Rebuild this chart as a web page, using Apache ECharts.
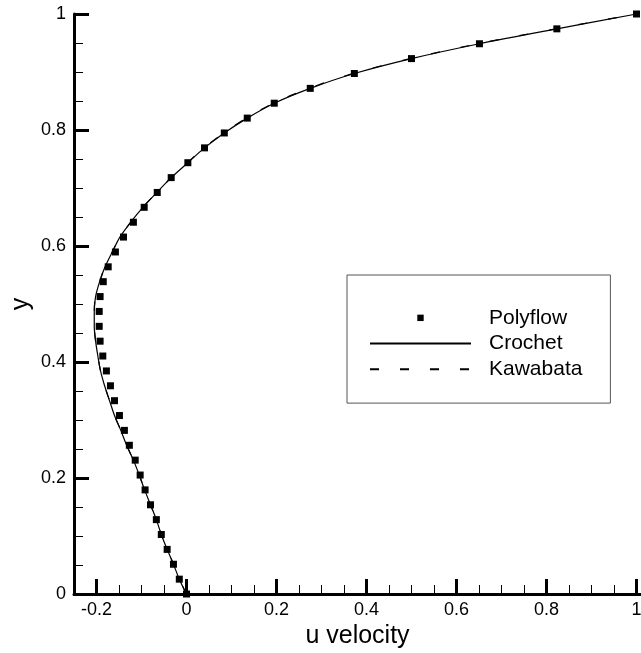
<!DOCTYPE html>
<html>
<head>
<meta charset="utf-8">
<script src="https://cdn.jsdelivr.net/npm/echarts@6/dist/echarts.min.js"></script>
<style>
  html, body { margin: 0; padding: 0; background: #fff; }
  #chart { width: 641px; height: 653px; }
</style>
</head>
<body>
<div id="chart"></div>
<script>
// Vertical centreline profile: y positions shared by all three profiles
const yLevels = [0, 0.0256, 0.0513, 0.0769, 0.1026, 0.1282, 0.1538, 0.1795, 0.2051, 0.2308,
  0.2564, 0.2821, 0.3077, 0.3333, 0.3590, 0.3846, 0.4103, 0.4359, 0.4615, 0.4872,
  0.5128, 0.5385, 0.5641, 0.5897, 0.6154, 0.6410, 0.6667, 0.6923, 0.7179, 0.7436,
  0.7692, 0.7949, 0.8205, 0.8462, 0.8718, 0.8974, 0.9231, 0.9487, 0.9744, 1];

// u velocity at each y level
const polyflowU = [0, -0.016, -0.029, -0.043, -0.056, -0.067, -0.080, -0.092, -0.103, -0.114,
  -0.127, -0.138, -0.149, -0.160, -0.169, -0.178, -0.186, -0.192, -0.194, -0.194,
  -0.192, -0.185, -0.174, -0.158, -0.140, -0.118, -0.094, -0.065, -0.034, 0.003,
  0.040, 0.084, 0.135, 0.195, 0.275, 0.373, 0.500, 0.651, 0.823, 1.0];

const crochetU = [0, -0.016, -0.029, -0.043, -0.056, -0.067, -0.080, -0.093, -0.105, -0.118,
  -0.133, -0.146, -0.160, -0.171, -0.182, -0.191, -0.197, -0.202, -0.205, -0.205,
  -0.202, -0.193, -0.181, -0.165, -0.148, -0.124, -0.097, -0.066, -0.034, 0.003,
  0.040, 0.084, 0.135, 0.195, 0.275, 0.373, 0.500, 0.651, 0.823, 1.0];

const kawabataU = [0, -0.016, -0.029, -0.043, -0.056, -0.067, -0.080, -0.093, -0.105, -0.118,
  -0.133, -0.146, -0.160, -0.171, -0.182, -0.191, -0.197, -0.202, -0.205, -0.205,
  -0.202, -0.193, -0.181, -0.165, -0.148, -0.124, -0.097, -0.066, -0.034, 0.002,
  0.039, 0.083, 0.133, 0.193, 0.272, 0.370, 0.497, 0.648, 0.820, 1.0];

const seriesNames = ['Polyflow', 'Crochet', 'Kawabata'];

// Axis ticks
const xMajorTicks = [-0.2, 0, 0.2, 0.4, 0.6, 0.8, 1];
const xMinorTicks = [-0.15, -0.1, -0.05, 0.05, 0.1, 0.15, 0.25, 0.3, 0.35, 0.45, 0.5, 0.55,
  0.65, 0.7, 0.75, 0.85, 0.9, 0.95];
const yMajorTicks = [0, 0.2, 0.4, 0.6, 0.8, 1];

const FONT = 'Liberation Sans, Arial, Helvetica, sans-serif';
const INK = '#000';

const toPoints = (us) => us.map((u, i) => [u, yLevels[i]]);

const chart = echarts.init(document.getElementById('chart'), null, { renderer: 'canvas' });

chart.setOption({
  animation: false,
  backgroundColor: '#fff',
  textStyle: { fontFamily: FONT, color: INK },
  grid: { left: 74, right: 0, top: 14, bottom: 59, containLabel: false, outerBoundsMode: 'none' },
  xAxis: [
    {
      type: 'value',
      min: -0.25,
      max: 1.01,
      position: 'bottom',
      name: 'u velocity',
      nameLocation: 'middle',
      nameGap: 29,
      nameTextStyle: { fontSize: 25, color: INK, fontFamily: FONT },
      axisLine: { show: true, onZero: false, lineStyle: { color: INK, width: 3 } },
      axisTick: { show: true, inside: true, length: 15, customValues: xMajorTicks,
        lineStyle: { color: INK, width: 3 } },
      axisLabel: { show: true, customValues: xMajorTicks, margin: 7, fontSize: 18,
        color: INK, fontFamily: FONT },
      splitLine: { show: false }
    },
    {
      type: 'value',
      min: -0.25,
      max: 1.01,
      position: 'bottom',
      axisLine: { show: false, onZero: false },
      axisTick: { show: true, inside: true, length: 9, customValues: xMinorTicks,
        lineStyle: { color: INK, width: 1 } },
      axisLabel: { show: false },
      splitLine: { show: false }
    }
  ],
  yAxis: {
    type: 'value',
    min: 0,
    max: 1,
    interval: 0.2,
    name: 'y',
    nameLocation: 'middle',
    nameRotate: 90,
    nameGap: 40,
    nameMoveOverlap: false,
    nameTextStyle: { fontSize: 25, color: INK, fontFamily: FONT },
    axisLine: { show: true, onZero: false, lineStyle: { color: INK, width: 3 } },
    axisTick: { show: true, inside: true, length: 15, customValues: yMajorTicks,
      lineStyle: { color: INK, width: 3 } },
    minorTick: { show: true, splitNumber: 4, length: 9, lineStyle: { color: INK, width: 1 } },
    axisLabel: { show: true, margin: 8, fontSize: 18, color: INK, fontFamily: FONT },
    splitLine: { show: false },
    minorSplitLine: { show: false }
  },
  legend: {
    show: true,
    orient: 'vertical',
    left: 347,
    top: 275,
    padding: [30, 28, 21, 22],
    itemGap: 0,
    itemWidth: 101,
    itemHeight: 8,
    selectedMode: false,
    backgroundColor: '#fff',
    borderColor: '#555',
    borderWidth: 1,
    borderRadius: 0,
    textStyle: { fontSize: 21, color: INK, fontFamily: FONT, lineHeight: 25.7,
      padding: [0, 0, 0, 13] },
    data: [
      { name: seriesNames[0], lineStyle: { opacity: 0 } },
      { name: seriesNames[1], itemStyle: { opacity: 0 } },
      { name: seriesNames[2], itemStyle: { opacity: 0 } }
    ]
  },
  series: [
    {
      name: seriesNames[1],
      type: 'line',
      data: toPoints(crochetU),
      symbol: 'none',
      smooth: 0.3,
      clip: false,
      z: 2,
      lineStyle: { color: INK, width: 1.2, type: 'solid' },
      itemStyle: { color: INK }
    },
    {
      name: seriesNames[2],
      type: 'line',
      data: toPoints(kawabataU),
      symbol: 'none',
      smooth: 0.3,
      clip: false,
      z: 3,
      lineStyle: { color: INK, width: 1.2, type: [9, 21] },
      itemStyle: { color: INK }
    },
    {
      name: seriesNames[0],
      type: 'line',
      data: toPoints(polyflowU),
      symbol: 'rect',
      symbolSize: 7,
      showSymbol: true,
      showAllSymbol: true,
      clip: false,
      z: 4,
      lineStyle: { width: 0, opacity: 0 },
      itemStyle: { color: INK, borderWidth: 0 }
    }
  ]
});
</script>
</body>
</html>
